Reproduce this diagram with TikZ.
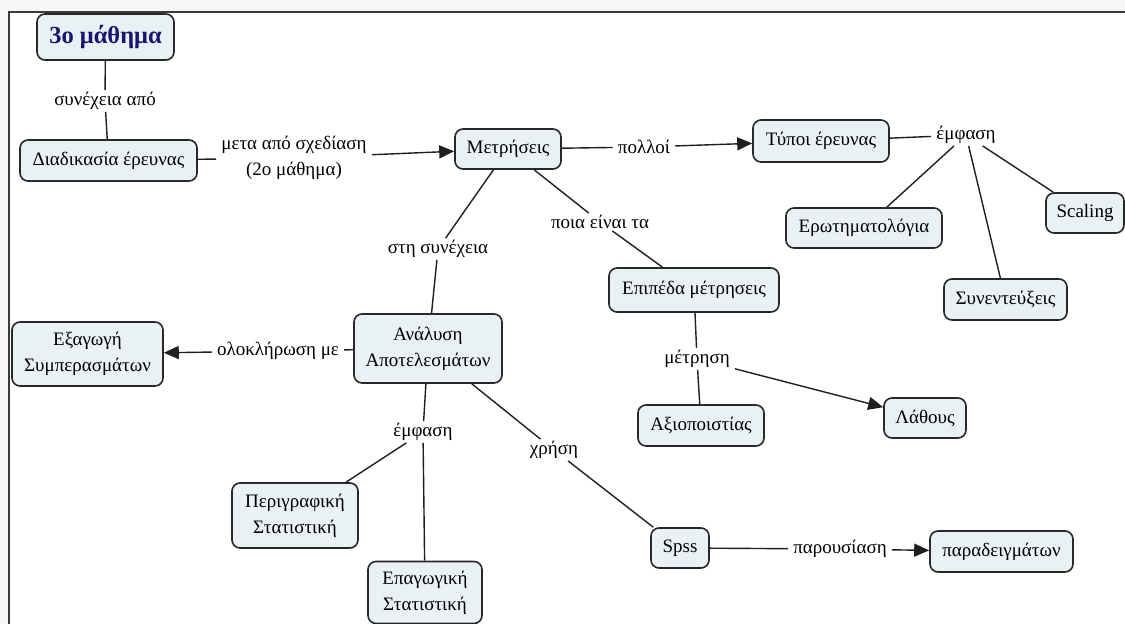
\documentclass[tikz,border=0pt]{standalone}
\usepackage{fontspec}
\setmainfont{Liberation Serif}
\usetikzlibrary{arrows.meta}
\definecolor{boxfill}{RGB}{233,241,245}
\definecolor{boxline}{RGB}{40,40,40}
\definecolor{titleblue}{RGB}{22,22,110}
\definecolor{pagegray}{RGB}{246,246,246}
\definecolor{framegray}{RGB}{58,58,58}
\begin{document}
\begin{tikzpicture}[x=1pt,y=-1pt,
  concept/.style={draw=boxline, fill=boxfill, line width=1.6pt, rounded corners=8pt,
    inner sep=4pt, align=center, font=\fontsize{19}{26}\selectfont},
  sz/.style 2 args={minimum width=#1pt, minimum height=#2pt},
  lab/.style={inner xsep=5pt, inner ysep=2pt, align=center, font=\fontsize{19}{26}\selectfont},
  link/.style={draw=black!88, line width=1.4pt},
  arr/.style={link, -{Triangle[length=15pt,width=13pt]}}
]
\useasboundingbox (0,0) rectangle (1125,624);
% page and frame
\fill[pagegray] (0,0) rectangle (1125,624);
\fill[white] (9,12) rectangle (1130,630);
\draw[framegray, line width=2.6pt] (1130,12) -- (9,12) -- (9,630);

% concepts
\node[concept, sz={137}{46}, font=\fontsize{24.5}{29}\selectfont\bfseries, text=titleblue] (title) at (105.5,37) {3ο μάθημα};
\node[concept, sz={177}{41}] (diad) at (108.5,160.5) {Διαδικασία έρευνας};
\node[concept, sz={106}{40}] (metr) at (508,149) {Μετρήσεις};
\node[concept, sz={136}{42}] (typoi) at (821,141) {Τύποι έρευνας};
\node[concept, sz={156}{40}] (erot) at (864,228) {Ερωτηματολόγια};
\node[concept, sz={123}{41}] (synent) at (1005.5,299.5) {Συνεντεύξεις};
\node[concept, sz={78}{40}] (scaling) at (1085,213) {Scaling};
\node[concept, sz={170}{44}] (epip) at (694,290) {Επιπέδα μέτρησεις};
\node[concept, sz={126}{41}] (axiop) at (701,425.5) {Αξιοποιστίας};
\node[concept, sz={82}{40}] (lathous) at (925,418) {Λάθους};
\node[concept, sz={58}{40}] (spss) at (680,548) {Spss};
\node[concept, sz={143}{41}] (parad) at (1001.5,551.5) {παραδειγμάτων};
\node[concept, sz={151}{64}] (exag) at (87.5,354) {Εξαγωγή\\Συμπερασμάτων};
\node[concept, sz={148}{69}] (anal) at (428,348.5) {Ανάλυση\\Αποτελεσμάτων};
\node[concept, sz={126}{65}] (perig) at (295,515.5) {Περιγραφική\\Στατιστική};
\node[concept, sz={114}{62}] (epag) at (425,592.5) {Επαγωγική\\Στατιστική};

% linking phrases
\node[lab] (l1) at (105,101) {συνέχεια από};
\node[lab] (l2) at (294,158) {μετα από σχεδίαση\\(2ο μάθημα)};
\node[lab] (l3) at (644,147) {πολλοί};
\node[lab] (l4) at (966,135) {έμφαση};
\node[lab] (l5) at (438,249) {στη συνέχεια};
\node[lab] (l6) at (600,222) {ποια είναι τα};
\node[lab] (l7) at (697,359) {μέτρηση};
\node[lab] (l8) at (278,351) {ολοκλήρωση με};
\node[lab] (l9) at (423,432) {έμφαση};
\node[lab] (l10) at (554,450) {χρήση};
\node[lab] (l11) at (840,549) {παρουσίαση};

% connectors
\draw[link] (title) -- (l1);
\draw[link] (l1) -- (diad);
\draw[link] (diad) -- (l2);
\draw[arr] (l2) -- (metr);
\draw[link] (metr) -- (l3);
\draw[arr] (l3) -- (typoi);
\draw[link] (typoi) -- (l4);
\draw[link] (l4) -- (erot);
\draw[link] (l4) -- (synent);
\draw[link] (l4) -- (scaling);
\draw[link] (metr) -- (l5);
\draw[link] (l5) -- (anal);
\draw[link] (metr) -- (l6);
\draw[link] (l6) -- (epip);
\draw[link] (epip) -- (l7);
\draw[link] (l7) -- (axiop);
\draw[arr] (l7) -- (lathous);
\draw[link] (anal) -- (l8);
\draw[arr] (l8) -- (exag);
\draw[link] (anal) -- (l9);
\draw[link] (l9) -- (perig);
\draw[link] (l9) -- (epag);
\draw[link] (anal) -- (l10);
\draw[link] (l10) -- (spss);
\draw[link] (spss) -- (l11);
\draw[arr] (l11) -- (parad);
\end{tikzpicture}
\end{document}
